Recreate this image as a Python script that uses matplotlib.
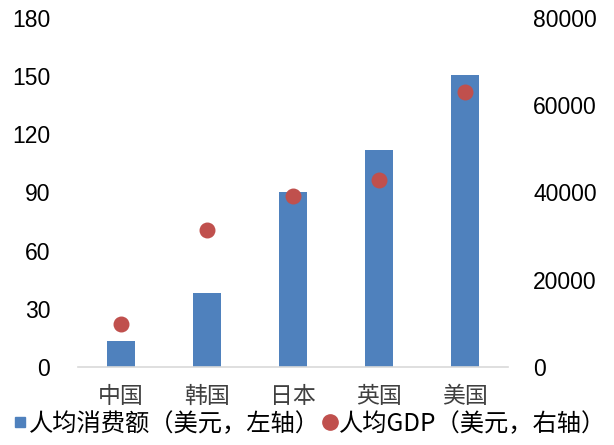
import numpy as np
import matplotlib.pyplot as plt
from matplotlib.lines import Line2D

plt.rcParams['font.family'] = ['Noto Sans CJK SC', 'DejaVu Sans']

countries = ["中国", "韩国", "日本", "英国", "美国"]
consumption = [13.5, 38, 90.5, 112, 150.5]      # 人均消费额, left axis
gdp = [9900, 31300, 39300, 42900, 63000]         # 人均GDP, right axis
left_ticks = [0, 30, 60, 90, 120, 150, 180]
right_ticks = [0, 20000, 40000, 60000, 80000]

BLUE = "#4f81bd"
RED = "#c0504d"

fig = plt.figure(figsize=(6.14, 4.45), dpi=100)
ax = fig.add_axes([78 / 614, 1 - 367 / 445, 430 / 614, 349 / 445])
ax2 = ax.twinx()

x = np.arange(len(countries))
ax.bar(x, consumption, width=0.32, color=BLUE, zorder=2)
ax2.scatter(x, gdp, s=110, color=RED, zorder=3)

ax.set_xlim(-0.5, len(countries) - 0.5)
ax.set_ylim(0, 180)
ax2.set_ylim(0, 80000)
ax.set_yticks(left_ticks)
ax2.set_yticks(right_ticks)
ax.set_xticks(x)
ax.set_xticklabels(countries, fontsize=16.5, color="#404040")

num_font = dict(family=["Liberation Sans", "DejaVu Sans"], size=16.5)
ax.set_yticklabels([str(t) for t in left_ticks], **num_font)
ax2.set_yticklabels([str(t) for t in right_ticks], **num_font)

for a in (ax, ax2):
    for s in a.spines.values():
        s.set_visible(False)
    a.tick_params(length=0)
ax.spines["bottom"].set_visible(True)
ax.spines["bottom"].set_color("#d9d9d9")
ax.spines["bottom"].set_linewidth(1.2)
ax.tick_params(axis="y", pad=20)
ax2.tick_params(axis="y", pad=18)
ax.tick_params(axis="x", pad=13)

handles = [
    Line2D([], [], marker="s", linestyle="none", color=BLUE, markersize=7),
    Line2D([], [], marker="o", linestyle="none", color=RED, markersize=11),
]
labels = ["人均消费额（美元，左轴）", "人均GDP（美元，右轴）"]
fig.legend(handles, labels, loc="lower left", bbox_to_anchor=(-0.005, -0.02),
           ncol=2, frameon=False, fontsize=17.5, handlelength=0.5,
           handletextpad=0.1, columnspacing=0.2, borderpad=0.2)

fig.savefig("out.png", dpi=100)
